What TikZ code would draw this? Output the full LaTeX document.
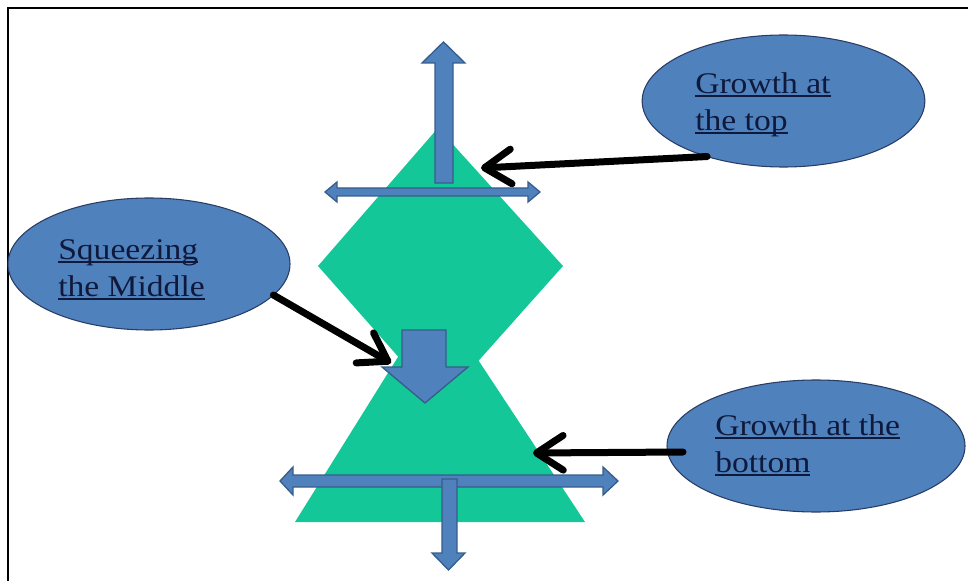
\documentclass[tikz,border=0pt]{standalone}
\usepackage{fontspec}
\newfontfamily\lbl[FakeStretch=1.12]{Liberation Serif}
\usetikzlibrary{arrows.meta,shapes.geometric}

\definecolor{hourgreen}{RGB}{20,199,152}
\definecolor{bluefill}{RGB}{79,129,189}
\definecolor{blueedge}{RGB}{56,93,138}
\definecolor{ovaledge}{RGB}{40,60,100}
\definecolor{labeltext}{RGB}{15,25,60}

% underlined word group, the rule crossing descenders like a word processor does
\newcommand\ulword[1]{\setbox0\hbox{#1}\rlap{\rule[-2.8pt]{\wd0}{1.1pt}}\box0}

\tikzset{
  bubble/.style={ellipse, draw=ovaledge, line width=0.8pt, fill=bluefill,
    inner sep=0pt, outer sep=0pt, minimum height=99pt},
  bubbletext/.style={anchor=north west, inner sep=0pt, align=left,
    text=labeltext, font=\lbl\fontsize{22.5pt}{27.75pt}\selectfont},
  blockarrow/.style={fill=bluefill, draw=blueedge, line width=1pt, line join=miter},
  pointer/.style={draw=black, line width=5.25pt, line cap=round,
    -{Straight Barb[length=20pt, width=26pt, round]}},
  glass/.style={fill=hourgreen, draw=none}
}

\begin{document}
\begin{tikzpicture}[x=0.75pt, y=-0.75pt]
  \useasboundingbox (0,0) rectangle (968,581);

  % frame
  \draw[line width=1.6pt] (8,581) -- (8,8) -- (968,8);

  % hourglass: upper diamond and lower triangle
  \fill[glass] (438,128) -- (563,266) -- (440,404) -- (318,266) -- cycle;
  \fill[glass] (436,296) -- (585,522) -- (295,522) -- cycle;

  % top: upward arrow and double arrow
  \filldraw[blockarrow] (435,183) -- (435,63) -- (422,63) -- (443.5,42)
    -- (465,63) -- (453,63) -- (453,183) -- cycle;
  \filldraw[blockarrow] (325,192) -- (337,182) -- (337,188) -- (528,188)
    -- (528,182) -- (540,192) -- (528,202) -- (528,196) -- (337,196)
    -- (337,202) -- cycle;

  % middle: squeezing arrow
  \filldraw[blockarrow] (402,330) -- (446,330) -- (446,367) -- (468,367)
    -- (425,403) -- (382,367) -- (402,367) -- cycle;

  % bottom: double arrow and downward arrow
  \filldraw[blockarrow] (280,481) -- (293,467) -- (293,475) -- (603,475)
    -- (603,467) -- (618,481) -- (603,495) -- (603,487) -- (293,487)
    -- (293,495) -- cycle;
  \filldraw[blockarrow] (442,479) -- (457,479) -- (457,553) -- (465,553)
    -- (448.5,570) -- (432,553) -- (442,553) -- cycle;

  % labels
  \node[bubble, minimum width=212pt] (top) at (783.5,101) {};
  \node[bubbletext] (toptext) at (695,72) {\ulword{Growth at}\\\ulword{the top}};

  \node[bubble, minimum width=211.5pt] (mid) at (149,264) {};
  \node[bubbletext] (midtext) at (58,239) {\ulword{Squeezing}\\\ulword{the Middle}};

  \node[bubble, minimum width=223.5pt] (bot) at (816,446) {};
  \node[bubbletext] (bottext) at (715,414) {\ulword{Growth at the}\\\ulword{bottom}};

  % pointers
  \coordinate (toptip) at (481,168);
  \coordinate (midtip) at (391,363);
  \coordinate (bottip) at (533,453);
  \draw[pointer] (top.216) -- (toptip);
  \draw[pointer] (mid.346) -- (midtip);
  \draw[pointer] ([xshift=12pt, yshift=-4.5pt]bot.west) -- (bottip);
\end{tikzpicture}
\end{document}
